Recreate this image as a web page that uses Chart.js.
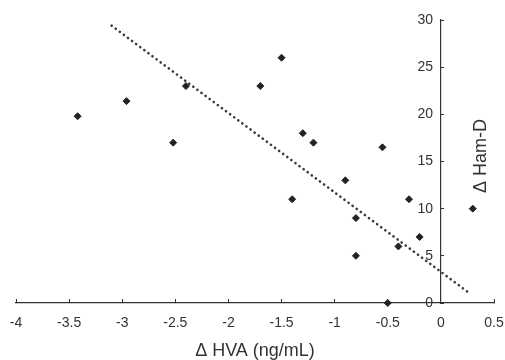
<!DOCTYPE html>
<html>
<head>
<meta charset="utf-8">
<script src="https://cdn.jsdelivr.net/npm/chart.js@4"></script>
<style>
  html, body { margin: 0; padding: 0; background: #fff; }
  #wrap { width: 505px; height: 360px; }
</style>
</head>
<body>
<div id="wrap"><canvas id="c"></canvas></div>
<script>
// Change in HVA (ng/mL) vs change in Ham-D score
const hvaChange = [-3.42, -2.96, -2.52, -2.40, -1.70, -1.50, -1.30, -1.20, -0.55, -0.90, -1.40, -0.30, -0.80, -0.80, -0.20, -0.40, -0.50, 0.30];
const hamdChange = [19.8, 21.4, 17.0, 23.0, 23.0, 26.0, 18.0, 17.0, 16.5, 13.0, 11.0, 11.0, 9.0, 5.0, 7.0, 6.0, 0.0, 10.0];

// regression line end points
const trendX = [-3.1, 0.25];
const trendY = [29.4, 1.2];

const xTitle = 'Δ HVA (ng/mL)';
const yTitle = 'Δ Ham-D';

const ink = '#333333';
const FONT = "'Liberation Sans', Arial, sans-serif";

// y title sits to the right of the axis, reading bottom to top
const yTitlePlugin = {
  id: 'yTitle',
  afterDraw(chart) {
    const ctx = chart.ctx;
    ctx.save();
    ctx.translate(481, 156);
    ctx.rotate(-Math.PI / 2);
    ctx.font = '18px ' + FONT;
    ctx.fillStyle = ink;
    ctx.textAlign = 'center';
    ctx.textBaseline = 'middle';
    ctx.fillText(yTitle, 0, 0);
    ctx.restore();
  }
};

new Chart(document.getElementById('c'), {
  type: 'scatter',
  data: {
    datasets: [
      {
        data: hvaChange.map((x, i) => ({ x, y: hamdChange[i] })),
        pointStyle: 'rectRot',
        pointRadius: 3.5,
        pointBackgroundColor: '#222',
        pointBorderColor: '#222',
        clip: false,
      },
      {
        type: 'line',
        data: trendX.map((x, i) => ({ x, y: trendY[i] })),
        borderColor: '#3a3a3a',
        borderWidth: 2.6,
        borderDash: [0.1, 5],
        borderCapStyle: 'round',
        pointRadius: 0,
        fill: false,
      },
    ],
  },
  options: {
    responsive: true,
    maintainAspectRatio: false,
    animation: false,
    layout: { padding: { left: 16, right: 11, top: 20, bottom: 0 } },
    plugins: {
      legend: { display: false },
      tooltip: { enabled: false },
    },
    scales: {
      x: {
        type: 'linear',
        min: -4,
        max: 0.5,
        afterFit(scale) {
          // edge labels fit in the layout padding already
          scale.paddingLeft = 0;
          scale.paddingRight = 0;
          scale.height = 57;
        },
        ticks: {
          stepSize: 0.5,
          color: ink,
          padding: 16,
          font: { family: FONT, size: 14 },
          callback: v => String(Math.round(v * 10) / 10),
        },
        grid: { drawOnChartArea: false, tickLength: -4, color: ink },
        border: { color: ink, width: 1.2 },
        title: {
          display: true,
          text: xTitle,
          color: ink,
          padding: { top: 13, bottom: 0 },
          font: { family: FONT, size: 18, lineHeight: 1 },
        },
      },
      y: {
        type: 'linear',
        position: { x: 0 },
        min: 0,
        max: 30,
        ticks: {
          stepSize: 5,
          color: ink,
          font: { family: FONT, size: 14 },
          callback: v => v + '  ',
        },
        grid: { drawOnChartArea: false, tickLength: -4, color: ink },
        border: { color: ink, width: 1.2 },
      },
    },
  },
  plugins: [yTitlePlugin],
});
</script>
</body>
</html>
